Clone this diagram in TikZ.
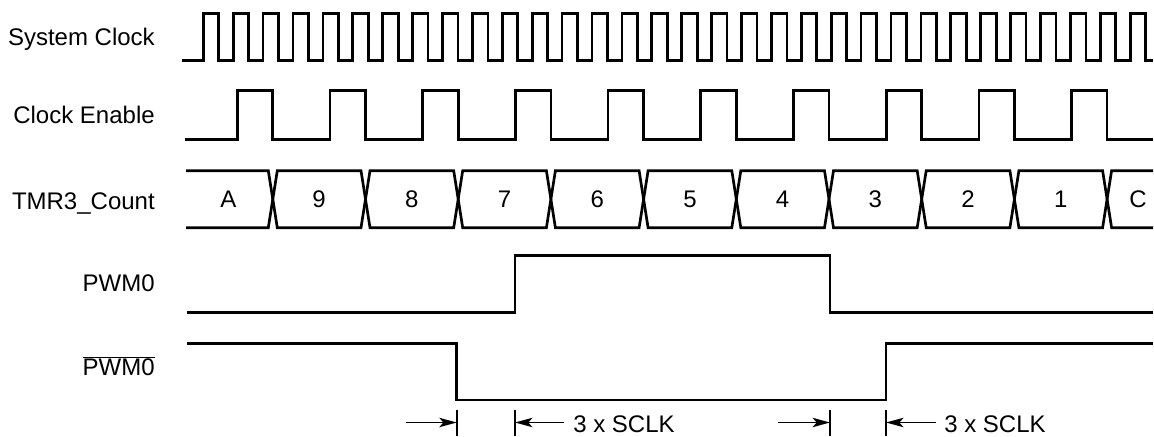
\documentclass[tikz,border=0pt]{standalone}
\usepackage{fontspec}
\setmainfont{Liberation Sans}
\usepackage{tikz}
\usetikzlibrary{positioning}
\usetikzlibrary{arrows.meta}

\newcommand{\sigfont}{\fontsize{18}{21}\selectfont}

\begin{document}
\begin{tikzpicture}[x = 0.75pt, y = -0.75pt,
                    wave/.style = {line width = 2pt, line join = miter},
                    signame/.style = {anchor = base east, inner sep = 0pt,
                                      font = \sigfont},
                    busval/.style = {anchor = base, inner sep = 0pt,
                                     font = \sigfont},
                    tick/.style = {line width = 1.3pt},
                    dim/.style = {-{Stealth[length = 13pt, width = 7pt, inset = 3pt]},
                                  line width = 1.4pt}]

\useasboundingbox (0,0) rectangle (1154,436);

% signal names
\node[signame] (sclk) at (155,45)    {System Clock};
\node[signame] (ce)   at (155,123.3) {Clock Enable};
\node[signame] (cnt)  at (155,209)   {TMR3\_Count};
\node[signame] (pwm)  at (155,291)   {PWM0};
\node[signame] (npwm) at (155,375.7) {$\overline{\mbox{PWM0}}$};

% system clock
\draw[wave] (181.7,60.7)
  \foreach \k in {0,...,31} {
    -- ({203.3+29.9*\k},60.7) -- ++(0,-47.4) -- ++(15.5,0) -- ++(0,47.4)}
  -- (1153,60.7);

% clock enable
\draw[wave] (185,139.3)
  \foreach \k in {0,...,9} {
    -- ({237.3+92.7*\k},139.3) -- ++(0,-48.6)
    -- ({272.8+92.7*\k},90.7) -- ++(0,48.6)}
  -- (1153,139.3);

% counter bus
\draw[wave] (186,170.7) -- (268.3,170.7) -- (272.8,199.2)
  -- (268.3,227.7) -- (186,227.7);
\foreach \k in {0,...,8}
  \draw[wave] ({272.8+92.7*\k},199.2) -- ++(4.5,-28.5)
    -- ({268.3+92.7*(\k+1)},170.7) -- ++(4.5,28.5) -- ++(-4.5,28.5)
    -- ({277.3+92.7*\k},227.7) -- cycle;
\draw[wave] (1153,170.7) -- (1111.6,170.7) -- (1107.1,199.2)
  -- (1111.6,227.7) -- (1153,227.7);

\node[busval] (vA) at (228.5,207) {A};
\foreach \v [count = \i from 0] in {9,8,...,1}
  \node[busval] (v\v) at ({272.8+92.7*(\i+0.5)},207) {\v};
\node[busval] (vC) at (1138,207) {C};

% pwm outputs
\draw[wave] (187.3,312.7) -- (515,312.7) -- (515,255.7)
  -- (830,255.7) -- (830,312.7) -- (1153,312.7);
\draw[wave] (187.3,343.5) -- (456.7,343.5) -- (456.7,400)
  -- (886,400) -- (886,343.5) -- (1153,343.5);

% dead time marks
\coordinate (t1) at (456.7,422.5);
\coordinate (t2) at (515,422.5);
\coordinate (t3) at (830,422.5);
\coordinate (t4) at (886,422.5);
\foreach \t in {t1,t2,t3,t4}
  \draw[tick] ([yshift = 9.75pt]\t) -- ([yshift = -9.75pt]\t);

\node[anchor = base west, inner sep = 0pt, font = \sigfont] (w1) at (573,432.7) {3 x SCLK};
\node[anchor = base west, inner sep = 0pt, font = \sigfont] (w2) at (944,432.7) {3 x SCLK};

\coordinate (a1) at (406,422.5);
\coordinate (a2) at (564,422.5);
\coordinate (a3) at (778,422.5);
\coordinate (a4) at (936,422.5);

\path (a1) edge [dim] (t1);
\path (a2) edge [dim] (t2);
\path (a3) edge [dim] (t3);
\path (a4) edge [dim] (t4);

\end{tikzpicture}
\end{document}
